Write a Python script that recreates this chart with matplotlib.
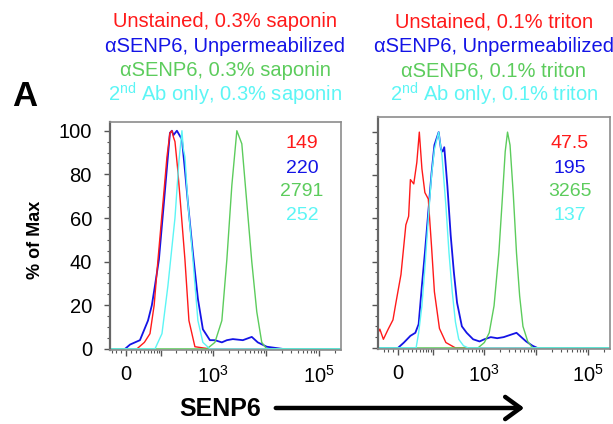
import numpy as np
import matplotlib
matplotlib.use("Agg")
import matplotlib.pyplot as plt
from matplotlib.patches import FancyArrowPatch
from matplotlib.ticker import FixedLocator, NullFormatter

plt.rcParams['font.family'] = ['Liberation Sans', 'DejaVu Sans']
plt.rcParams['mathtext.fontset'] = 'custom'
plt.rcParams['mathtext.rm'] = 'Liberation Sans'
plt.rcParams['mathtext.it'] = 'Liberation Sans:italic'
plt.rcParams['mathtext.bf'] = 'Liberation Sans:bold'

# ---------------------------
# Colours of the four samples
# ---------------------------
RED = '#ff1a1a'
BLUE = '#1414e6'
GREEN = '#5ccc5c'
CYAN = '#5cf5f5'

# ------------------------------------------
# Histogram outlines (fluorescence, % of max)
# ------------------------------------------
# Left panel: 0.3% saponin
red_L_x = [-34, 22, 40, 56, 70, 85, 108, 130, 149, 163, 175, 187, 210, 233, 291, 347, 451, 868, 262144]
red_L_y = [0, 0, 3, 7, 20, 41, 67, 88, 99, 100, 97, 95, 83, 70, 41, 13, 1, 0, 0]
blue_L_x = [-34, -2, 8, 29, 50, 62, 73, 89, 118, 149, 163, 175, 204, 255, 291, 332, 413, 514, 639,
            868, 1079, 1462, 1818, 2358, 3645, 5382, 6984, 10323, 20700, 262144]
blue_L_y = [0, 0, 2, 4, 13, 20, 29, 41, 72, 99, 100, 98, 100, 96, 82, 67, 44, 23, 9,
            4, 4, 3, 4, 4.5, 4, 5.5, 3, 1, 0, 0]
green_L_x = [-34, 761, 1079, 1462, 1818, 2259, 2574, 2808, 3488, 4334, 5382, 6692, 8307, 10323, 262144]
green_L_y = [0, 0, 3, 13, 41, 75, 90, 100, 94, 67, 40, 17, 3, 0, 0]
cyan_L_x = [-34, 73, 103, 136, 187, 223, 255, 270, 291, 332, 413, 514, 639, 868, 262144]
cyan_L_y = [0, 0, 7, 29, 60, 86, 100, 92, 88, 67, 41, 13, 3, 0, 0]

# Right panel: 0.1% triton
red_R_x = [-45, -40, -31, -20, -10, -4, 6, 16, 22, 26, 34, 42, 49, 57, 67, 80, 94, 108, 137, 184, 283, 262144]
red_R_y = [7, 8.7, 4, 8.7, 13, 21, 34, 57, 61, 78, 76, 86, 100, 83, 72, 69, 47, 26, 9, 2.5, 0, 0]
blue_R_x = [-45, 0, 12, 26, 38, 47, 57, 67, 80, 94, 108, 132, 147, 158, 171, 197, 229, 264, 304,
            377, 467, 621, 826, 1021, 1355, 1802, 2395, 3172, 4220, 5220, 6458, 8580, 10600, 262144]
blue_R_y = [0, 0, 2.5, 5.6, 7, 11, 29, 44, 63, 81, 94, 100, 92, 91, 93, 75, 52, 35, 21,
            10, 7, 4, 3, 4, 5, 4.5, 5, 6, 7, 5, 3, 1, 0, 0]
green_R_x = [-45, 769, 1021, 1265, 1566, 1937, 2228, 2565, 2840, 3172, 3667, 4220, 4854, 5612, 6930, 8580, 262144]
green_R_y = [0, 0, 2.5, 7, 19.5, 44, 67, 91, 100, 94, 71, 44, 24, 10, 3, 0, 0]
cyan_R_x = [-45, 40, 47, 57, 67.5, 80, 94, 108, 132, 154, 184, 212, 245, 283, 328, 405, 501, 262144]
cyan_R_y = [0, 0, 7, 19.5, 38, 60, 80, 92, 100, 89, 66, 44, 26, 12, 4, 1, 0, 0]

# -------------------
# Labels of the panel
# -------------------
left_titles = ['Unstained, 0.3% saponin', 'αSENP6, Unpermeabilized',
               'αSENP6, 0.3% saponin', r'2$^{\mathrm{nd}}$ Ab only, 0.3% saponin']
right_titles = ['Unstained, 0.1% triton', 'αSENP6, Unpermeabilized',
                'αSENP6, 0.1% triton', r'2$^{\mathrm{nd}}$ Ab only, 0.1% triton']
left_mfi = ['149', '220', '2791', '252']
right_mfi = ['47.5', '195', '3265', '137']
colours = [RED, BLUE, GREEN, CYAN]

x_major = [0, 1e2, 1e3, 1e4, 1e5]
x_labels = ['0', '', r'$\mathregular{10^3}$', '', r'$\mathregular{10^5}$']
x_minor = ([-30, -20, -10, 10, 20, 30, 40, 50, 60, 70, 80, 90]
           + [m * 10 ** e for e in (2, 3, 4) for m in range(2, 10)] + [2e5])

W, H = 613, 424


def fx(x):
    return x / W


def fy(y):
    return 1 - y / H


def style_axes(ax, xmin, ytop, show_ylabels):
    ax.set_xscale('asinh', linear_width=45)
    ax.set_xlim(xmin, 262144)
    ax.set_ylim(-0.5, ytop)
    ax.xaxis.set_major_locator(FixedLocator(x_major))
    ax.set_xticklabels(x_labels)
    ax.xaxis.set_minor_locator(FixedLocator(x_minor))
    ax.xaxis.set_minor_formatter(NullFormatter())
    ax.set_yticks([0, 20, 40, 60, 80, 100])
    ax.set_yticks(np.arange(0, 101, 5), minor=True)
    if not show_ylabels:
        ax.set_yticklabels([])
    ax.tick_params(which='major', length=4, width=1.0, color='#555555', labelsize=14.5)
    ax.tick_params(which='minor', length=2.2, width=0.8, color='#555555')
    ax.tick_params(axis='x', pad=7)
    ax.tick_params(axis='y', pad=9)
    for side in ['top', 'right', 'bottom']:
        ax.spines[side].set_color('#8c8c8c')
        ax.spines[side].set_linewidth(1.2)
    ax.spines['left'].set_color('#666666')
    ax.spines['left'].set_linewidth(1.6)


fig = plt.figure(figsize=(W / 100, H / 100), dpi=100)

ax1 = fig.add_axes([fx(110), fy(350), (341 - 110) / W, (350 - 122) / H])
ax2 = fig.add_axes([fx(378), fy(349), (610 - 378) / W, (349 - 117) / H])

style_axes(ax1, -34, 104, True)
style_axes(ax2, -45, 107, False)

lw = 1.0
ax1.plot(blue_L_x, blue_L_y, color=BLUE, lw=1.3)
ax1.plot(red_L_x, red_L_y, color=RED, lw=lw)
ax1.plot(green_L_x, green_L_y, color=GREEN, lw=lw)
ax1.plot(cyan_L_x, cyan_L_y, color=CYAN, lw=lw)

ax2.plot(blue_R_x, blue_R_y, color=BLUE, lw=1.3)
ax2.plot(red_R_x, red_R_y, color=RED, lw=lw)
ax2.plot(green_R_x, green_R_y, color=GREEN, lw=lw)
ax2.plot(cyan_R_x, cyan_R_y, color=CYAN, lw=lw)

# headers
rows = [21.7, 46.7, 70.7, 94.5]
for t, c, y in zip(left_titles, colours, rows):
    fig.text(fx(225), fy(y), t, color=c, fontsize=14.5, ha='center', va='center')
for t, c, y in zip(right_titles, colours, rows):
    fig.text(fx(494), fy(y), t, color=c, fontsize=14.5, ha='center', va='center')

# MFI values
mfi_rows = [143.3, 168.3, 191.5, 215]
for t, c, y in zip(left_mfi, colours, mfi_rows):
    fig.text(fx(302), fy(y), t, color=c, fontsize=14, ha='center', va='center')
for t, c, y in zip(right_mfi, colours, mfi_rows):
    fig.text(fx(570), fy(y), t, color=c, fontsize=14, ha='center', va='center')

fig.text(fx(25), fy(97), 'A', fontsize=25, fontweight='bold', ha='center', va='center')
fig.text(fx(35), fy(240), '% of Max', fontsize=13, fontweight='bold', rotation=90,
         ha='center', va='center')
fig.text(fx(220), fy(408.5), 'SENP6', fontsize=18, fontweight='bold', ha='center', va='center')

arrow = FancyArrowPatch((fx(273), fy(408)), (fx(527), fy(408)), transform=fig.transFigure,
                        arrowstyle='->,head_length=0.55,head_width=0.4', mutation_scale=20,
                        lw=3.2, color='black')
fig.add_artist(arrow)

fig.savefig('out.png', dpi=100)
